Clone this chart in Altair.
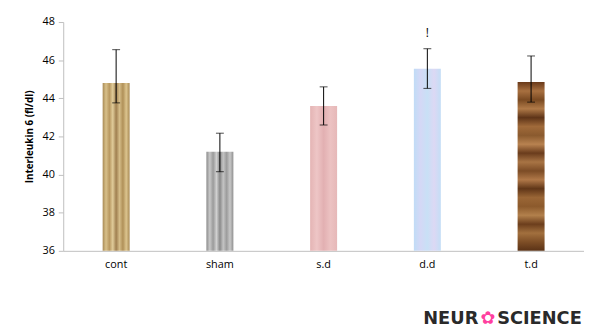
import altair as alt
import pandas as pd

groups = ["cont", "sham", "s.d", "d.d", "t.d"]
means = [44.8, 41.2, 43.6, 45.55, 44.85]
err_low = [43.76, 40.15, 42.6, 44.52, 43.8]
err_high = [46.55, 42.17, 44.6, 46.6, 46.22]
marks = ["", "", "", "!", ""]
mark_y = [47.4, 47.4, 47.4, 47.4, 47.4]

df = pd.DataFrame({"group": groups, "mean": means, "lo": err_low, "hi": err_high,
                   "mark": marks, "marky": mark_y})

FONT = "Open Sans"

x_enc = alt.X("group:N", sort=groups, title=None,
              scale=alt.Scale(paddingInner=0.74, paddingOuter=0.38),
              axis=alt.Axis(labelAngle=0, ticks=False, domainColor="#bfbfbf",
                            labelFont=FONT, labelFontSize=11, labelColor="#000000",
                            labelPadding=8, grid=False, gridOpacity=0))
y_axis = alt.Axis(values=[36, 38, 40, 42, 44, 46, 48], grid=False, gridOpacity=0,
                  domainColor="#bfbfbf", tickColor="#bfbfbf", tickSize=5,
                  labelFont=FONT, labelFontSize=11, labelColor="#000000",
                  labelPadding=4, titleFont=FONT, titleFontSize=10,
                  titleFontWeight="bold", titleColor="#000000", titlePadding=8)
y_scale = alt.Scale(domain=[36, 48], zero=False, nice=False)


def yq(field):
    return alt.Y(field, title="Interleukin 6 (fl/dl)", scale=y_scale, axis=y_axis)


def stops(cols):
    n = len(cols)
    return [alt.GradientStop(offset=i / (n - 1), color=c) for i, c in enumerate(cols)]

fills = {
    "cont": alt.Gradient(gradient="linear", x1=0, x2=1, y1=0, y2=0,
                         stops=stops(["#a88a55", "#d8c08a", "#b89860", "#e0cc9a", "#a08050",
                                      "#d4bc88", "#b09058", "#dcc48e", "#a88a55"])),
    "sham": alt.Gradient(gradient="linear", x1=0, x2=1, y1=0, y2=0,
                         stops=stops(["#8c8c8c", "#c8c8c8", "#9a9a9a", "#d0d0d0", "#8a8a8a",
                                      "#c4c4c4", "#9c9c9c", "#c8c8c8", "#909090"])),
    "s.d": alt.Gradient(gradient="linear", x1=0, x2=1, y1=0, y2=0,
                        stops=stops(["#e4b4b4", "#eec6c6", "#e2b0b2", "#ecc2c2", "#e6b8b8"])),
    "d.d": alt.Gradient(gradient="linear", x1=0, x2=1, y1=0, y2=0,
                        stops=stops(["#c0dcf6", "#d4d8f6", "#c8e0f6", "#dcd8f4", "#c4def6"])),
    "t.d": alt.Gradient(gradient="linear", x1=0, x2=0, y1=0, y2=1,
                        stops=stops(["#6a3a1a", "#a87040", "#7a4a22", "#b07a48", "#5e3418",
                                     "#a06a3a", "#8a5a2e", "#b88250", "#6a3c1c", "#a87444",
                                     "#7c4c26", "#b07848", "#603618", "#9a6636", "#8c5a2c",
                                     "#b2804c", "#6c3e1c", "#a2703e", "#7e4e26", "#5a3216"])),
}

base = alt.Chart(df)

bars = [
    base.transform_filter(alt.datum.group == g).mark_bar(color=fills[g]).encode(
        x=x_enc, y=yq("mean:Q"), y2=alt.datum(36))
    for g in groups
]

rules = base.mark_rule(color="#000000", strokeWidth=1).encode(
    x=x_enc, y=yq("lo:Q"), y2="hi:Q")
cap_lo = base.mark_tick(color="#000000", thickness=1, size=8, orient="horizontal").encode(
    x=x_enc, y=yq("lo:Q"))
cap_hi = base.mark_tick(color="#000000", thickness=1, size=8, orient="horizontal").encode(
    x=x_enc, y=yq("hi:Q"))

sig = base.transform_filter(alt.datum.mark != "").mark_text(
    font=FONT, fontSize=12, color="#000000").encode(
    x=x_enc, y=yq("marky:Q"), text="mark:N")

wm1 = alt.Chart(pd.DataFrame({"t": ["NEUR"]})).mark_text(
    font="DejaVu Sans", fontWeight="bold", fontSize=18, color="#2a2a2a", align="left",
    baseline="alphabetic").encode(x=alt.value(365), y=alt.value(306), text="t:N")
wm2 = alt.Chart(pd.DataFrame({"t": ["✿"]})).mark_text(
    font="DejaVu Sans", fontSize=18, color="#ff3fa0", align="left",
    baseline="alphabetic").encode(x=alt.value(423), y=alt.value(306), text="t:N")
wm3 = alt.Chart(pd.DataFrame({"t": ["SCIENCE"]})).mark_text(
    font="DejaVu Sans", fontWeight="bold", fontSize=18, color="#2a2a2a", align="left",
    baseline="alphabetic").encode(x=alt.value(440), y=alt.value(306), text="t:N")

chart = alt.layer(*bars, rules, cap_lo, cap_hi, sig, wm1, wm2, wm3).properties(
    width=528, height=232,
    background="#ffffff",
    autosize=alt.AutoSizeParams(type="none"),
    padding={"left": 56, "top": 12, "right": 0, "bottom": 76},
).configure_view(strokeWidth=0, stroke="transparent").configure_axis(
    grid=False, gridOpacity=0, gridColor="transparent")

chart.save("out.html", embed_options={"renderer": "svg", "actions": False})
